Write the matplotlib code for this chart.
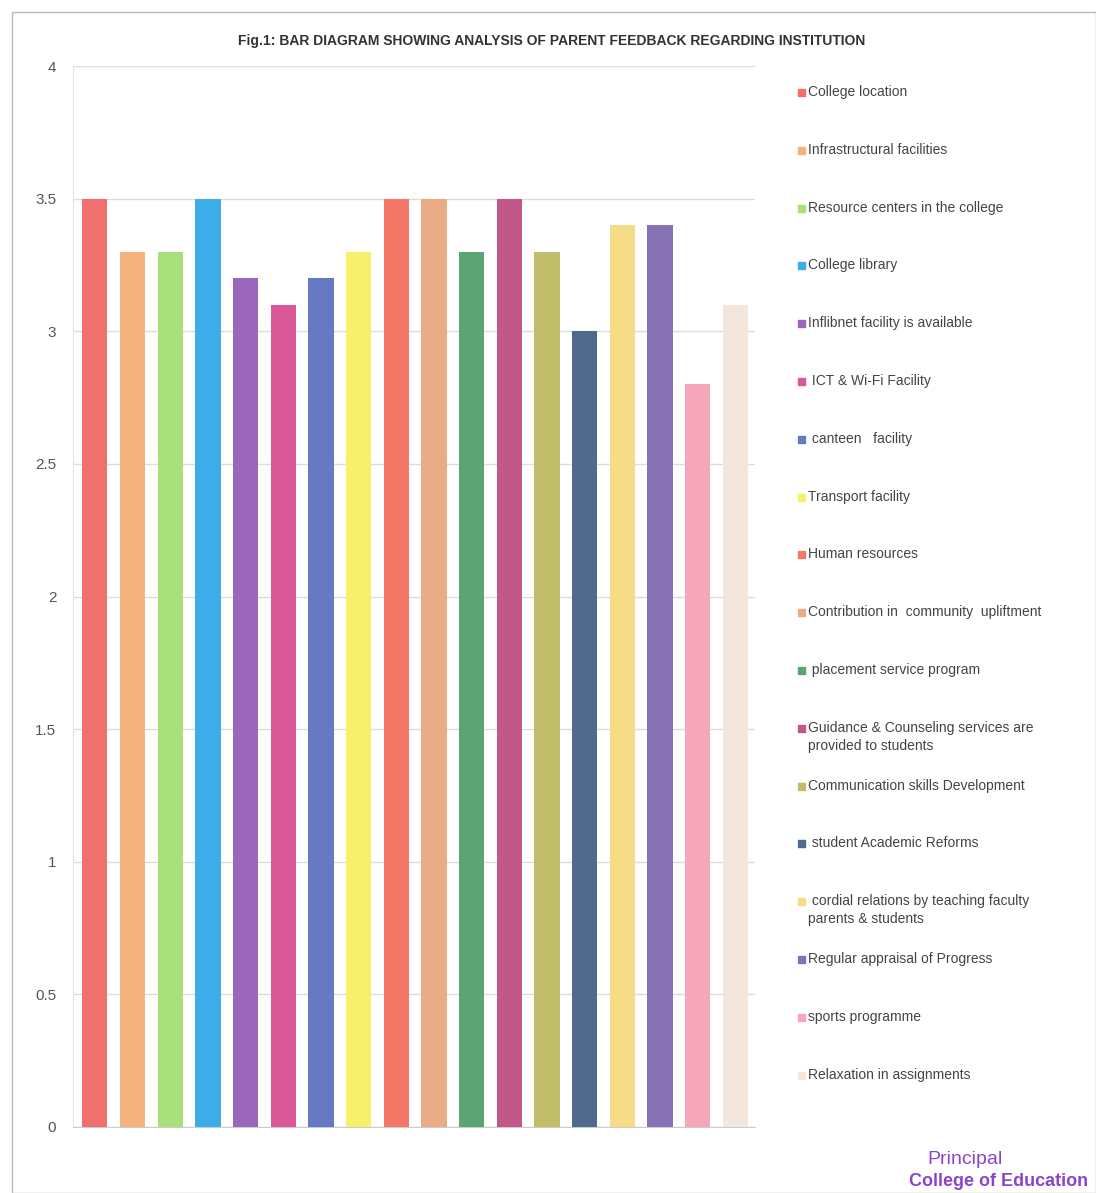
import matplotlib
matplotlib.use("Agg")
import matplotlib.pyplot as plt
from matplotlib.patches import Rectangle

categories = [
    "College location",
    "Infrastructural facilities",
    "Resource centers in the college",
    "College library",
    "Inflibnet facility is available",
    " ICT & Wi-Fi Facility",
    " canteen   facility",
    "Transport facility",
    "Human resources",
    "Contribution in  community  upliftment",
    " placement service program",
    "Guidance & Counseling services are\nprovided to students",
    "Communication skills Development",
    " student Academic Reforms",
    " cordial relations by teaching faculty\nparents & students",
    "Regular appraisal of Progress",
    "sports programme",
    "Relaxation in assignments",
]
values = [3.5, 3.3, 3.3, 3.5, 3.2, 3.1, 3.2, 3.3, 3.5, 3.5, 3.3, 3.5, 3.3, 3.0, 3.4, 3.4, 2.8, 3.1]
colors = ["#F26F6F", "#F4B27E", "#A9E07C", "#3BADE8", "#9A67BC", "#DA5898",
          "#6679C4", "#F6F06A", "#F47868", "#EAAC86", "#5CA474", "#C2578A",
          "#C0BE68", "#4F6A8C", "#F6DC86", "#8872B6", "#F6A6BA", "#F3E7DD"]
yticks = [0, 0.5, 1, 1.5, 2, 2.5, 3, 3.5, 4]
ytick_labels = ["0", "0.5", "1", "1.5", "2", "2.5", "3", "3.5", "4"]
title = "Fig.1: BAR DIAGRAM SHOWING ANALYSIS OF PARENT FEEDBACK REGARDING INSTITUTION"

W, H = 1096, 1193
fig = plt.figure(figsize=(W / 100, H / 100), dpi=100)
fig.patch.set_facecolor("white")

ax = fig.add_axes([73 / W, 1 - 1127 / H, (755 - 73) / W, (1127 - 66) / H])
x = list(range(len(values)))
ax.bar(x, values, width=0.67, color=colors, zorder=3)
ax.set_xlim(-0.58, len(values) - 0.48)
ax.set_ylim(0, 4)
ax.set_yticks(yticks)
ax.set_yticklabels(ytick_labels, fontsize=11, color="#555555",
                   family=["Liberation Sans", "DejaVu Sans"])
ax.set_xticks([])
ax.tick_params(axis="y", length=0, pad=12)
ax.grid(axis="y", color="#DDDDDD", linewidth=1, zorder=0)
for s in ["top", "right"]:
    ax.spines[s].set_visible(False)
ax.spines["left"].set_color("#E6E6E6")
ax.spines["bottom"].set_color("#CCCCCC")

fig.text(552 / W, 1 - 41 / H, title, ha="center", va="center", fontsize=10,
         fontweight="bold", color="#333333",
         family=["Liberation Sans Narrow", "Liberation Sans", "DejaVu Sans"])

# legend, manually laid out like the original
y0, dy = 93, 57.8
for i, (lab, c) in enumerate(zip(categories, colors)):
    yc = y0 + i * dy
    fig.patches.append(Rectangle((798 / W, 1 - (yc + 3) / H), 7 / W, 7 / H,
                                 transform=fig.transFigure, color=c))
    fig.text(808 / W, 1 - (yc - 8) / H, lab, ha="left", va="top", fontsize=10,
             color="#444444", linespacing=1.35,
             family=["Liberation Sans", "DejaVu Sans"])

fig.text(965 / W, 1 - 1160 / H, "Principal", ha="center", va="center",
         fontsize=14, color="#8A45C8", family=["Liberation Sans", "DejaVu Sans"])
fig.text(1088 / W, 1 - 1182 / H, "College of Education", ha="right", va="center",
         fontsize=13, fontweight="bold", color="#8A45C8",
         family=["Liberation Sans", "DejaVu Sans"])

# outer frame of the scanned page
fig.patches.append(Rectangle((12 / W, 0), (W - 12) / W, 1 - 12 / H,
                             transform=fig.transFigure, fill=False,
                             edgecolor="#BBBBBB", linewidth=1))

fig.savefig("out.png", dpi=100, facecolor="white")
